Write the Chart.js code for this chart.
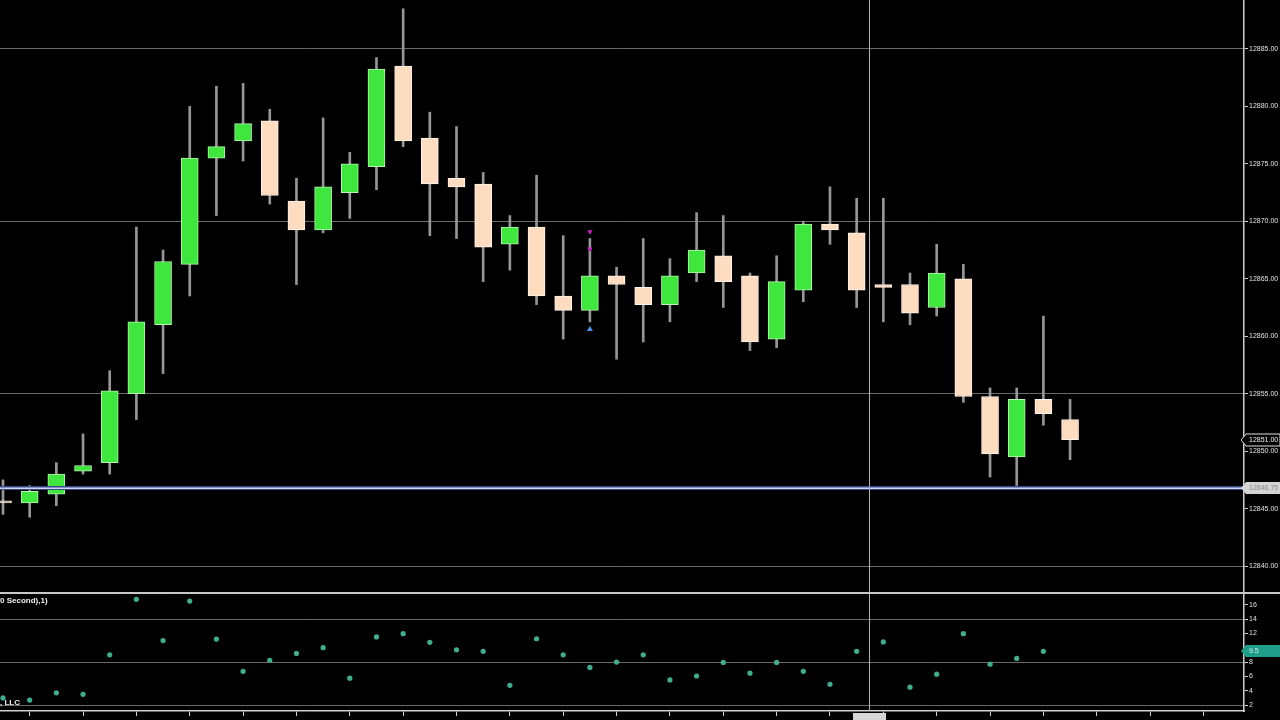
<!DOCTYPE html>
<html>
<head>
<meta charset="utf-8">
<script src="https://cdn.jsdelivr.net/npm/chart.js@4.4.1/dist/chart.umd.min.js"></script>
<style>
    html, body { margin: 0; padding: 0; background: #000; overflow: hidden; }
    #painelPreco { position: absolute; left: 0; top: 0; width: 1280px; height: 592px; }
    #painelIndicador { position: absolute; left: 0; top: 592px; width: 1280px; height: 128px; border-top: 2px solid #c8c8c8; box-sizing: border-box; }
    .legenda { position: absolute; left: 0; font: bold 8px "Liberation Sans", Arial, sans-serif; color: #eee; white-space: nowrap; }
</style>
</head>
<body>
<div id="painelPreco"><canvas id="graficoPreco"></canvas></div>
<div id="painelIndicador"><canvas id="graficoIndicador"></canvas></div>
<div class="legenda" style="top:596px;">0 Second),1)</div>
<div class="legenda" style="top:698px;">, LLC</div>
<script>
// candles (um por barra)
const abertura   = [12845.5, 12845.5, 12846.25, 12848.25, 12849, 12855, 12861, 12866.25, 12875.5, 12877,
                    12878.75, 12871.75, 12869.25, 12872.5, 12874.75, 12883.5, 12877.25, 12873.75, 12873.25, 12868,
                    12869.5, 12863.5, 12862.25, 12865.25, 12864.25, 12862.75, 12865.5, 12867, 12865.25, 12859.75,
                    12864, 12869.75, 12869, 12864.5, 12864.5, 12862.5, 12865, 12854.75, 12849.5, 12854.5, 12852.75];
const maxima     = [12847.5, 12847, 12849, 12851.5, 12857, 12869.5, 12867.5, 12880, 12881.75, 12882,
                    12879.75, 12873.75, 12879, 12876, 12884.25, 12888.5, 12879.5, 12878.25, 12874.25, 12870.5,
                    12874, 12868.75, 12868.5, 12866, 12868.5, 12866.75, 12870.75, 12870.5, 12865.5, 12867,
                    12870, 12873, 12872, 12872, 12865.5, 12868, 12866.25, 12855.5, 12855.5, 12861.75, 12854.5];
const minima     = [12844.5, 12844.25, 12845.25, 12848, 12848, 12852.75, 12856.75, 12863.5, 12870.5, 12875.25,
                    12871.5, 12864.5, 12869, 12870.25, 12872.75, 12876.5, 12868.75, 12868.5, 12864.75, 12865.75,
                    12862.75, 12859.75, 12861.25, 12858, 12859.5, 12861.25, 12864.75, 12862.5, 12858.75, 12859,
                    12863, 12868, 12862.5, 12861.25, 12861, 12861.75, 12854.25, 12847.75, 12847, 12852.25, 12849.25];
const fechamento = [12845.5, 12846.5, 12848, 12848.75, 12855.25, 12861.25, 12866.5, 12875.5, 12876.5, 12878.5,
                    12872.25, 12869.25, 12873, 12875, 12883.25, 12877, 12873.25, 12873, 12867.75, 12869.5,
                    12863.5, 12862.25, 12865.25, 12864.5, 12862.75, 12865.25, 12867.5, 12864.75, 12859.5, 12864.75,
                    12869.75, 12869.25, 12864, 12864.25, 12862, 12865.5, 12854.75, 12849.75, 12854.5, 12853.25, 12851];

// indicador do painel de baixo (última barra ainda sem valor)
const indicador  = [3.0, 2.7, 3.7, 3.5, 9.0, 16.75, 11.0, 16.5, 11.2, 6.7,
                    8.25, 9.2, 10.0, 5.75, 11.5, 11.95, 10.75, 9.7, 9.5, 4.75,
                    11.25, 9.0, 7.25, 8.0, 9.0, 5.5, 6.05, 7.95, 6.45, 7.95,
                    6.7, 4.9, 9.5, 10.8, 4.5, 6.3, 11.95, 7.7, 8.5, 9.5, null];

const sinaisVenda  = [{ x: 22, y: 12869.1 }, { x: 22, y: 12867.6 }];
const sinaisCompra = [{ x: 22, y: 12860.6 }];

const precoCursor = 12846.75;
const barraCursor = 32.465;
const ultimoIndicador = 9.5;

const faixaX = { min: -0.1125, max: 46.52 };

const VERDE = '#3ee63e';
const PESSEGO = '#fddcbf';
const FONTE = '"Liberation Sans", Arial, sans-serif';

// tira o recuo que o Chart.js põe por causa dos rótulos
function semRecuo(s) {
    s.paddingTop = 0;
    s.paddingBottom = 0;
    s.paddingLeft = 0;
    s.paddingRight = 0;
}

function desenharRotulo(ctx, xEixo, y, texto, fundo, borda, cor, largura) {
    ctx.beginPath();
    ctx.moveTo(xEixo - 3, y);
    ctx.lineTo(xEixo + 2, y - 6);
    ctx.lineTo(largura, y - 6);
    ctx.lineTo(largura, y + 6);
    ctx.lineTo(xEixo + 2, y + 6);
    ctx.closePath();
    ctx.fillStyle = fundo;
    ctx.fill();
    if (borda) {
        ctx.strokeStyle = borda;
        ctx.lineWidth = 1;
        ctx.stroke();
    }
    ctx.fillStyle = cor;
    ctx.font = '7px ' + FONTE;
    ctx.textBaseline = 'middle';
    ctx.textAlign = 'left';
    ctx.fillText(texto, xEixo + 5, y + 0.5);
}

const pluginCursor = {
    id: 'cursor',
    afterDatasetsDraw(chart, args, opts) {
        const { ctx, chartArea, scales } = chart;
        const x = Math.round(scales.x.getPixelForValue(barraCursor)) + 0.5;
        ctx.save();
        if (opts.preco) {
            const y = Math.round(scales.y.getPixelForValue(precoCursor));
            ctx.fillStyle = '#34478a';
            ctx.fillRect(0, y - 2, chartArea.right, 4);
            ctx.fillStyle = '#cfd6f0';
            ctx.fillRect(0, y - 0.5, chartArea.right, 1.5);
        }
        ctx.strokeStyle = '#b0b0b0';
        ctx.lineWidth = 1;
        ctx.beginPath();
        ctx.moveTo(x, 0);
        ctx.lineTo(x, chartArea.bottom);
        ctx.stroke();
        ctx.restore();
    },
    afterDraw(chart, args, opts) {
        const { ctx, chartArea, scales } = chart;
        ctx.save();
        (opts.rotulos || []).forEach(r => {
            const y = Math.round(scales.y.getPixelForValue(r.valor));
            desenharRotulo(ctx, chartArea.right, y, r.texto, r.fundo, r.borda, r.cor, chart.width);
        });
        if (opts.caixaTempo) {
            const x = scales.x.getPixelForValue(barraCursor);
            ctx.fillStyle = '#d6d6d6';
            ctx.fillRect(Math.round(x) - 16, chartArea.bottom + 2, 33, 10);
        }
        ctx.restore();
    }
};

function desenharGraficoPreco() {
    const indices = abertura.map((_, i) => i);
    const corpos = indices.map(i => ({ x: i, y: [abertura[i], fechamento[i]] }));
    const pavios = indices.map(i => ({ x: i, y: [minima[i], maxima[i]] }));
    const cores = indices.map(i => fechamento[i] > abertura[i] ? VERDE : PESSEGO);
    const bordas = indices.map(i => fechamento[i] > abertura[i] ? '#b8f5b0' : '#fff3e8');
    const ultimo = fechamento[fechamento.length - 1];

    new Chart(document.getElementById('graficoPreco'), {
        type: 'bar',
        data: {
            datasets: [
                {
                    label: 'corpo',
                    data: corpos,
                    backgroundColor: cores,
                    borderColor: bordas,
                    borderWidth: 1,
                    borderSkipped: false,
                    barThickness: 17,
                    minBarLength: 2,
                    grouped: false,
                    order: 1
                },
                {
                    label: 'pavio',
                    data: pavios,
                    backgroundColor: '#969696',
                    borderWidth: 0,
                    barThickness: 2,
                    grouped: false,
                    order: 2
                },
                {
                    type: 'scatter',
                    label: 'venda',
                    data: sinaisVenda,
                    pointStyle: 'triangle',
                    rotation: 180,
                    radius: 3,
                    backgroundColor: '#d21ec8',
                    borderWidth: 0,
                    order: 0
                },
                {
                    type: 'scatter',
                    label: 'compra',
                    data: sinaisCompra,
                    pointStyle: 'triangle',
                    radius: 3.5,
                    backgroundColor: '#4a90e0',
                    borderWidth: 0,
                    order: 0
                }
            ]
        },
        options: {
            responsive: true,
            maintainAspectRatio: false,
            animation: false,
            layout: { padding: 0, autoPadding: false },
            plugins: {
                legend: { display: false },
                tooltip: { enabled: false },
                cursor: {
                    preco: true,
                    rotulos: [
                        { valor: ultimo, texto: ultimo.toFixed(2), fundo: '#000', borda: '#e0e0e0', cor: '#f0f0f0' },
                        { valor: precoCursor, texto: precoCursor.toFixed(2), fundo: '#d4d4d4', borda: null, cor: '#8a8a8a' }
                    ]
                }
            },
            scales: {
                x: {
                    type: 'linear',
                    min: faixaX.min,
                    max: faixaX.max,
                    offset: false,
                    display: false,
                    afterFit: semRecuo
                },
                y: {
                    position: 'right',
                    min: 12837.74,
                    max: 12889.26,
                    afterFit: s => { s.width = 36; semRecuo(s); },
                    border: { color: '#cfcfcf', width: 1.5 },
                    grid: {
                        color: c => (c.tick && c.tick.value % 15 === 0) ? '#6a6a6a' : 'rgba(0,0,0,0)',
                        lineWidth: 1,
                        tickLength: 4,
                        tickColor: '#cfcfcf'
                    },
                    ticks: {
                        stepSize: 5,
                        includeBounds: false,
                        padding: 1,
                        color: '#e0e0e0',
                        font: { family: FONTE, size: 7 },
                        callback: v => Number(v).toFixed(2)
                    }
                }
            }
        },
        plugins: [pluginCursor]
    });
}

function desenharGraficoIndicador() {
    const pontos = indicador.map((v, i) => ({ x: i, y: v }));

    new Chart(document.getElementById('graficoIndicador'), {
        type: 'scatter',
        data: {
            datasets: [{
                label: 'indicador',
                data: pontos,
                radius: 2.6,
                backgroundColor: '#3fae8e',
                borderWidth: 0
            }]
        },
        options: {
            responsive: true,
            maintainAspectRatio: false,
            animation: false,
            layout: { padding: 0, autoPadding: false },
            plugins: {
                legend: { display: false },
                tooltip: { enabled: false },
                cursor: {
                    preco: false,
                    caixaTempo: true,
                    rotulos: [
                        { valor: ultimoIndicador, texto: String(ultimoIndicador), fundo: '#1f9e8a', borda: null, cor: '#cdeee6' }
                    ]
                }
            },
            scales: {
                x: {
                    type: 'linear',
                    min: faixaX.min,
                    max: faixaX.max,
                    offset: false,
                    afterFit: s => { s.height = 9; semRecuo(s); },
                    afterBuildTicks: s => {
                        const t = [];
                        for (let v = 1; v < faixaX.max; v += 2) t.push({ value: v });
                        s.ticks = t;
                    },
                    border: { color: '#cfcfcf', width: 1.5 },
                    grid: { color: 'rgba(0,0,0,0)', tickLength: 5, tickColor: '#cfcfcf' },
                    ticks: { display: false }
                },
                y: {
                    position: 'right',
                    min: 1.17,
                    max: 17.49,
                    afterFit: s => { s.width = 36; semRecuo(s); },
                    border: { color: '#cfcfcf', width: 1.5 },
                    grid: {
                        color: c => (c.tick && (c.tick.value - 2) % 6 === 0) ? '#6a6a6a' : 'rgba(0,0,0,0)',
                        lineWidth: 1,
                        tickLength: 4,
                        tickColor: '#cfcfcf'
                    },
                    ticks: {
                        stepSize: 2,
                        includeBounds: false,
                        padding: 1,
                        color: '#e0e0e0',
                        font: { family: FONTE, size: 7 }
                    }
                }
            }
        },
        plugins: [pluginCursor]
    });
}

desenharGraficoPreco();
desenharGraficoIndicador();
</script>
</body>
</html>
